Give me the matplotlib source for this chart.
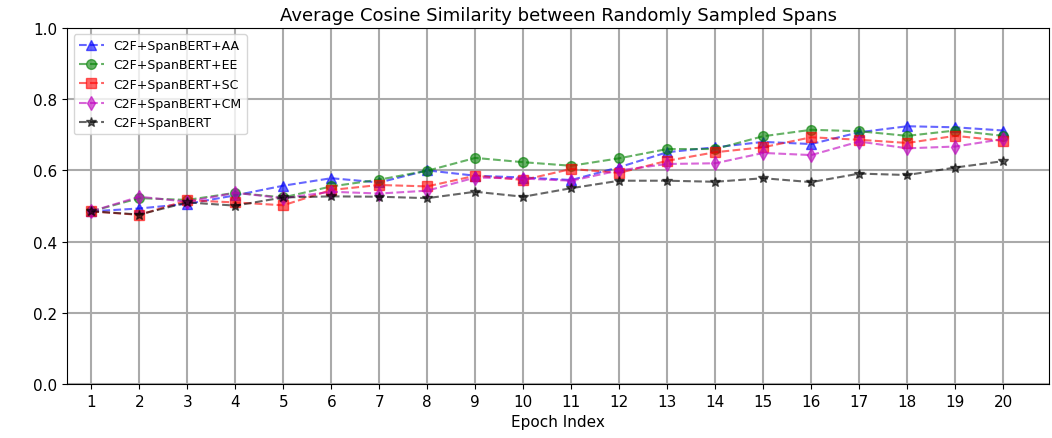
import numpy as np
import matplotlib
matplotlib.use('Agg')
import matplotlib.pyplot as plt

epochs = np.arange(1, 21)
aa = [0.485, 0.493, 0.506, 0.530, 0.557, 0.578, 0.566, 0.600, 0.585, 0.580,
      0.573, 0.609, 0.651, 0.665, 0.680, 0.674, 0.707, 0.724, 0.721, 0.712]
ee = [0.485, 0.522, 0.517, 0.537, 0.524, 0.555, 0.574, 0.599, 0.635, 0.623,
      0.613, 0.634, 0.660, 0.660, 0.696, 0.714, 0.710, 0.697, 0.712, 0.697]
sc = [0.485, 0.475, 0.516, 0.510, 0.502, 0.545, 0.559, 0.555, 0.585, 0.573,
      0.604, 0.593, 0.627, 0.651, 0.665, 0.693, 0.686, 0.677, 0.697, 0.683]
cm = [0.485, 0.526, 0.512, 0.537, 0.522, 0.540, 0.535, 0.543, 0.580, 0.577,
      0.571, 0.600, 0.618, 0.620, 0.649, 0.643, 0.681, 0.662, 0.667, 0.688]
base = [0.485, 0.476, 0.510, 0.501, 0.524, 0.527, 0.526, 0.522, 0.540, 0.526,
        0.550, 0.571, 0.571, 0.568, 0.578, 0.567, 0.591, 0.587, 0.608, 0.626]

labels = ['C2F+SpanBERT+AA', 'C2F+SpanBERT+EE', 'C2F+SpanBERT+SC',
          'C2F+SpanBERT+CM', 'C2F+SpanBERT']
series = [aa, ee, sc, cm, base]
colors = ['b', 'g', 'r', 'm', 'k']
markers = ['^', 'o', 's', 'd', '*']

fig, ax = plt.subplots(figsize=(10.52, 4.39), dpi=100)
fig.subplots_adjust(left=0.064, right=0.997, top=0.934, bottom=0.123)

for vals, lab, c, m in zip(series, labels, colors, markers):
    ax.plot(epochs, vals, linestyle='--', color=c, marker=m, alpha=0.6,
            markersize=7, label=lab)

ax.set_ylim(0, 1.0)
ax.set_xlim(0.5, 20.95)
ax.set_xticks(epochs)
ax.set_yticks(np.arange(0, 1.01, 0.2))
ax.grid(True, color='#aaaaaa', linewidth=1.5)
ax.set_axisbelow(True)
ax.tick_params(labelsize=11)
ax.set_xlabel('Epoch Index', fontsize=11)
ax.set_title('Average Cosine Similarity between Randomly Sampled Spans', fontsize=13)
ax.legend(loc='upper left', fontsize=9)

plt.savefig('out.png')
